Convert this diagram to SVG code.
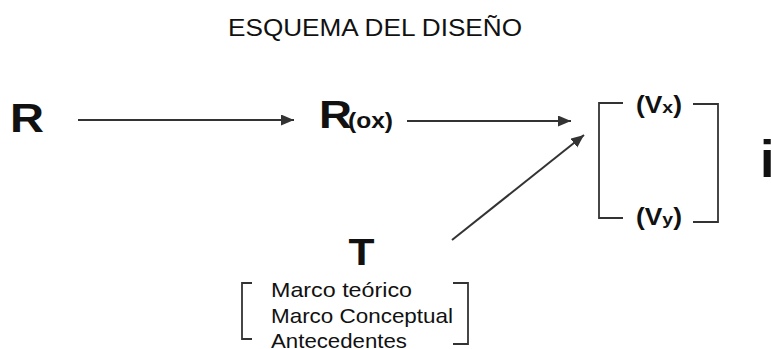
<svg xmlns="http://www.w3.org/2000/svg" width="771" height="349" viewBox="0 0 771 349">
<style>
.b{font-family:"Liberation Sans",Arial,sans-serif;font-weight:bold;fill:#111}
.t{font-family:"Liberation Sans",Arial,sans-serif;fill:#111}
.c{font-family:"Liberation Sans",Arial,sans-serif;fill:#111;font-size:21px}
.ln{stroke:#333;stroke-width:2;fill:none}
.br{stroke:#333;stroke-width:1.8;fill:none}
</style>
<defs>
<marker id="ah" markerUnits="userSpaceOnUse" markerWidth="14" markerHeight="12" refX="13" refY="5.5" orient="auto">
<path d="M0,0 L13,5.5 L0,11 z" fill="#333"/>
</marker>
</defs>
<text class="t" x="375" y="36" font-size="23" text-anchor="middle" textLength="294" lengthAdjust="spacingAndGlyphs">ESQUEMA DEL DISEÑO</text>
<g id="connectors">
<line class="ln" x1="78" y1="120" x2="294" y2="120" marker-end="url(#ah)"/>
<line class="ln" x1="407" y1="121" x2="571" y2="121" marker-end="url(#ah)"/>
<line class="ln" x1="452" y1="240" x2="584" y2="135" marker-end="url(#ah)"/>
</g>
<g id="node-R">
<text class="b" x="10" y="132" font-size="40" textLength="34" lengthAdjust="spacingAndGlyphs">R</text>
</g>
<g id="node-Rox">
<text class="b" x="319" y="128" font-size="39" textLength="33" lengthAdjust="spacingAndGlyphs">R</text>
<text class="b" x="348" y="128" font-size="22" textLength="45" lengthAdjust="spacingAndGlyphs">(ox)</text>
</g>
<g id="node-V">
<path class="br" d="M623,103 H599 V218 H623"/>
<path class="br" d="M693,104 H718 V222 H693"/>
<text class="b" x="636" y="113" font-size="23" textLength="46" lengthAdjust="spacingAndGlyphs">(V<tspan font-size="17">x</tspan>)</text>
<text class="b" x="636" y="225" font-size="23" textLength="46" lengthAdjust="spacingAndGlyphs">(V<tspan font-size="17">y</tspan>)</text>
</g>
<g id="node-i">
<text class="b" x="760" y="177" font-size="52">i</text>
</g>
<g id="node-T">
<text class="b" x="361.5" y="265" font-size="36" text-anchor="middle" textLength="26" lengthAdjust="spacingAndGlyphs">T</text>
<path class="br" d="M252,283 H242 V339 H252"/>
<path class="br" d="M453,283 H468 V344 H453"/>
<text class="c" x="271" y="297" textLength="141" lengthAdjust="spacingAndGlyphs">Marco teórico</text>
<text class="c" x="271" y="323" textLength="182" lengthAdjust="spacingAndGlyphs">Marco Conceptual</text>
<text class="c" x="271" y="348" textLength="136" lengthAdjust="spacingAndGlyphs">Antecedentes</text>
</g>
</svg>
